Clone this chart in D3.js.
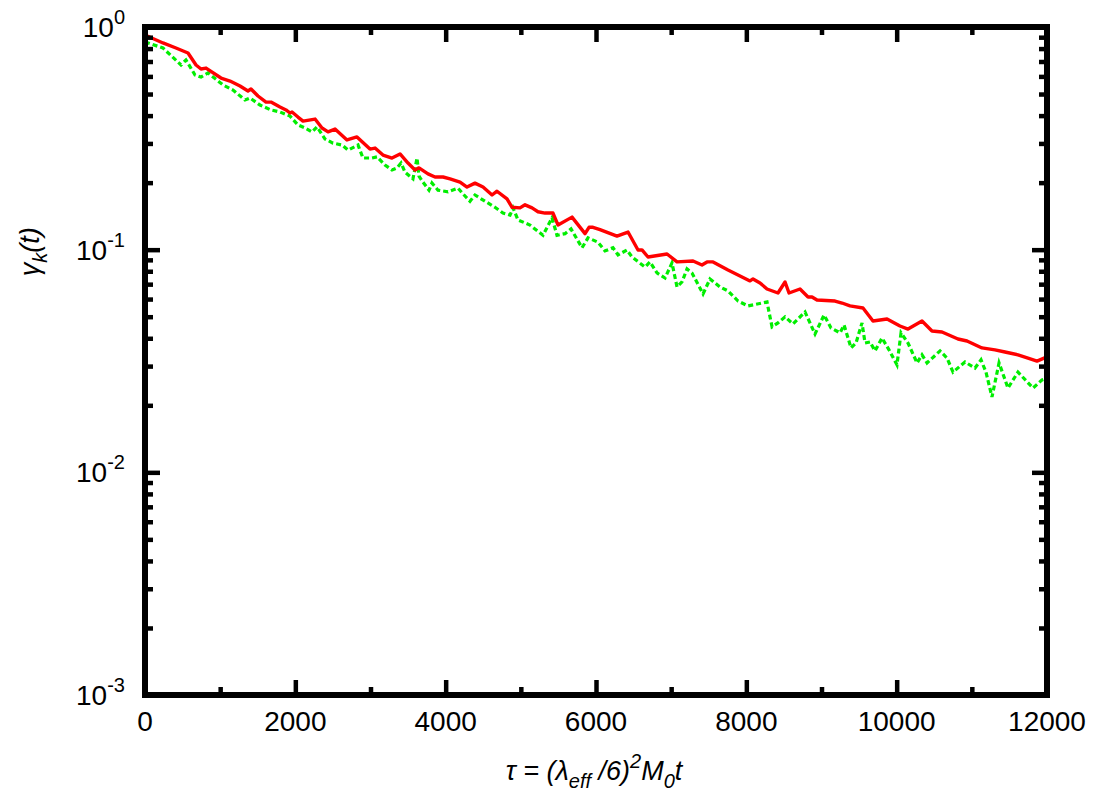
<!DOCTYPE html>
<html>
<head>
<meta charset="utf-8">
<script src="https://cdn.jsdelivr.net/npm/d3@7"></script>
<style>
body { margin: 0; background: #fff; }
text { font-family: "Liberation Sans", Arial, sans-serif; }
</style>
</head>
<body>
<div id="chart"></div>
<script>
// values
var redTau = [0,239,412,572,679,745,812,1011,1131,1264,1370,1410,1503,1610,1676,1796,1876,1929,1956,2035,
  2102,2262,2355,2435,2528,2687,2820,2993,3060,3166,3286,3393,3499,3592,3645,3765,3858,3965,4058,4191,
  4284,4390,4497,4617,4683,4816,4883,4989,5056,5149,5228,5322,5428,5495,5681,5854,5907,5960,6053,6279,
  6426,6559,6612,6692,6945,7078,7291,7410,7477,7557,7756,8049,8089,8182,8275,8421,8515,8568,8714,8821,
  8874,8940,9180,9273,9379,9552,9685,9872,10044,10151,10337,10470,10603,10816,10936,11135,11308,11441,11614,11747,
  11867,12000];
var redGamma = [0.921,0.848,0.805,0.764,0.675,0.648,0.654,0.590,0.572,0.543,0.516,0.527,0.490,0.460,0.460,0.437,0.424,0.411,0.415,0.394,
  0.378,0.386,0.352,0.338,0.348,0.311,0.321,0.283,0.286,0.266,0.258,0.269,0.245,0.228,0.233,0.219,0.212,0.212,0.208,0.201,
  0.191,0.199,0.191,0.176,0.183,0.169,0.155,0.154,0.159,0.154,0.148,0.146,0.146,0.129,0.140,0.118,0.126,0.126,0.123,0.115,
  0.120,0.0997,0.0997,0.0927,0.0956,0.0881,0.0890,0.0854,0.0881,0.0881,0.0811,0.0724,0.0739,0.0709,0.0666,0.0639,0.0716,0.0639,0.0666,0.0613,
  0.0613,0.0594,0.0588,0.0576,0.0559,0.0547,0.0478,0.0488,0.0454,0.0440,0.0478,0.0431,0.0427,0.0397,0.0389,0.0362,0.0355,0.0347,0.0337,0.0326,
  0.0316,0.0330];

var greenTau = [0,239,479,545,665,745,838,1038,1171,1330,1397,1530,1676,1796,1929,2035,2129,2222,2288,2395,
  2501,2621,2701,2834,2900,3020,3087,3193,3286,3353,3406,3459,3565,3619,3645,3698,3778,3818,3898,4031,
  4164,4231,4324,4390,4523,4656,4763,4856,4896,4962,5122,5295,5415,5481,5588,5668,5814,5894,6027,6120,
  6226,6293,6412,6479,6652,6719,6812,6918,7011,7078,7144,7211,7277,7424,7517,7650,7756,7889,8022,8275,
  8342,8421,8515,8621,8781,8914,9034,9127,9247,9300,9393,9459,9539,9579,9645,9712,9805,9898,10004,10058,
  10151,10271,10337,10404,10577,10670,10750,10909,11042,11122,11188,11268,11362,11481,11614,11814,11934,12000];
var greenGamma = [0.856,0.805,0.675,0.711,0.609,0.596,0.622,0.549,0.521,0.470,0.480,0.446,0.424,0.415,0.398,0.363,0.352,0.338,0.356,0.314,
  0.301,0.295,0.280,0.295,0.258,0.258,0.261,0.240,0.228,0.233,0.245,0.223,0.208,0.258,0.214,0.201,0.185,0.199,0.185,0.182,
  0.189,0.178,0.165,0.176,0.165,0.155,0.146,0.143,0.154,0.136,0.129,0.116,0.139,0.116,0.118,0.124,0.102,0.113,0.108,0.0987,
  0.102,0.0947,0.0997,0.0927,0.0836,0.0881,0.0786,0.0746,0.0872,0.0680,0.0716,0.0819,0.0786,0.0633,0.0739,0.0680,0.0653,0.0588,0.0559,0.0582,
  0.0450,0.0469,0.0499,0.0464,0.0525,0.0418,0.0509,0.0445,0.0423,0.0459,0.0362,0.0381,0.0469,0.0381,0.0385,0.0351,0.0401,0.0355,0.0304,0.0423,
  0.0381,0.0310,0.0337,0.0310,0.0351,0.0326,0.0282,0.0313,0.0294,0.0320,0.0282,0.0218,0.0310,0.0239,0.0282,0.0239,0.0260,0.0265];

var xMajorTicks = [0,2000,4000,6000,8000,10000,12000];
var xMinorTicks = [1000,3000,5000,7000,9000,11000];
var yExponents = [-3,-2,-1,0];

var margin = { top: 27, right: 53, bottom: 100, left: 145 },
  width = 1100 - margin.left - margin.right,
  height = 795 - margin.top - margin.bottom;

var x = d3.scaleLinear().domain([0, 12000]).range([0, width]);
var y = d3.scaleLog().domain([1e-3, 1]).range([height, 0]);

var yMinorTicks = [];
yExponents.slice(0, 3).forEach(function (e) {
  for (var m = 2; m <= 9; m++) yMinorTicks.push(m * Math.pow(10, e));
});

var svg = d3.select("#chart").append("svg")
  .attr("width", 1100)
  .attr("height", 795)
  .append("g")
  .attr("transform", "translate(" + margin.left + "," + margin.top + ")");

svg.append("clipPath").attr("id", "clip")
  .append("rect").attr("width", width).attr("height", height);

var line = d3.line()
  .x(function (d) { return x(d[0]); })
  .y(function (d) { return y(d[1]); });

var redData = d3.zip(redTau, redGamma);
var greenData = d3.zip(greenTau, greenGamma);

svg.append("path")
  .attr("clip-path", "url(#clip)")
  .attr("d", line(greenData))
  .attr("fill", "none")
  .attr("stroke", "#00ee00")
  .attr("stroke-width", 3.2)
  .attr("stroke-dasharray", "5,3");

svg.append("path")
  .attr("clip-path", "url(#clip)")
  .attr("d", line(redData))
  .attr("fill", "none")
  .attr("stroke", "#ff0000")
  .attr("stroke-width", 3.4)
  .attr("stroke-linejoin", "round");

// ticks, all four sides, pointing inward
function tickAxis(axisFn, scale, values, size, transform) {
  var g = svg.append("g")
    .attr("transform", transform || null)
    .call(axisFn(scale).tickValues(values).tickSize(size).tickFormat(""));
  g.select(".domain").remove();
  g.selectAll(".tick line").attr("stroke", "#000").attr("stroke-width", 4.5);
  return g;
}
tickAxis(d3.axisBottom, x, xMajorTicks, -15, "translate(0," + height + ")");
tickAxis(d3.axisBottom, x, xMinorTicks, -8, "translate(0," + height + ")");
tickAxis(d3.axisTop, x, xMajorTicks, -15);
tickAxis(d3.axisTop, x, xMinorTicks, -8);
var yMajorVals = yExponents.map(function (e) { return Math.pow(10, e); });
tickAxis(d3.axisLeft, y, yMajorVals, -15);
tickAxis(d3.axisLeft, y, yMinorTicks, -8);
tickAxis(d3.axisRight, y, yMajorVals, -15, "translate(" + width + ",0)");
tickAxis(d3.axisRight, y, yMinorTicks, -8, "translate(" + width + ",0)");

// frame
svg.append("rect")
  .attr("width", width)
  .attr("height", height)
  .attr("fill", "none")
  .attr("stroke", "#000")
  .attr("stroke-width", 6);

// x tick labels
svg.selectAll(".xlabel")
  .data(xMajorTicks)
  .enter().append("text")
  .attr("class", "xlabel")
  .attr("x", function (d) { return x(d); })
  .attr("y", height + 36)
  .attr("text-anchor", "middle")
  .attr("font-size", 28)
  .text(function (d) { return d; });

// y tick labels 10^e
var yl = svg.selectAll(".ylabel")
  .data(yExponents)
  .enter().append("text")
  .attr("class", "ylabel")
  .attr("x", -20)
  .attr("y", function (e) { return y(Math.pow(10, e)) + 10; })
  .attr("text-anchor", "end")
  .attr("font-size", 28);
yl.append("tspan").text("10");
yl.append("tspan").attr("dy", -13).attr("font-size", 20).text(function (e) { return e; });

// x axis title
var xt = svg.append("text")
  .attr("x", width / 2 - 2)
  .attr("y", height + 85)
  .attr("text-anchor", "middle")
  .attr("font-size", 27)
  .attr("font-style", "italic");
xt.append("tspan").text("\u03c4 = (\u03bb");
xt.append("tspan").attr("dy", 8).attr("font-size", 20).text("eff");
xt.append("tspan").attr("dy", -8).text(" /6)");
xt.append("tspan").attr("dy", -12).attr("font-size", 20).text("2");
xt.append("tspan").attr("dy", 12).text("M");
xt.append("tspan").attr("dy", 8).attr("font-size", 20).text("0");
xt.append("tspan").attr("dy", -8).text("t");

// y axis title
var yt = svg.append("text")
  .attr("transform", "translate(-106," + (y(0.1) + 2) + ") rotate(-90)")
  .attr("text-anchor", "middle")
  .attr("font-size", 27)
  .attr("font-style", "italic");
yt.append("tspan").text("\u03b3");
yt.append("tspan").attr("dy", 8).attr("font-size", 20).text("k");
yt.append("tspan").attr("dy", -8).text("(t)");
</script>
</body>
</html>
